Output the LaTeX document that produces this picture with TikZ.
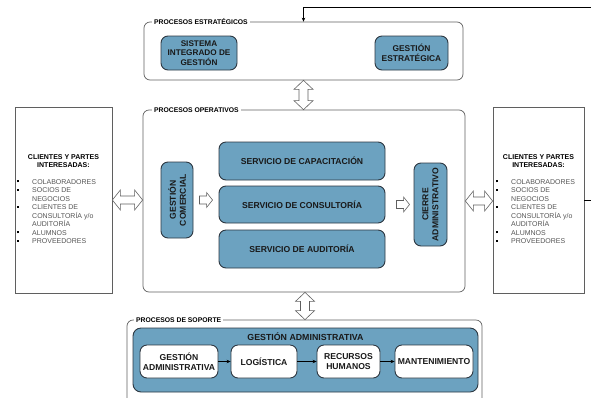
\documentclass[tikz,border=0pt]{standalone}
\usepackage{fontspec}
\setmainfont{Liberation Sans}
\usetikzlibrary{arrows.meta,calc}
\definecolor{blfill}{RGB}{108,162,192}
\definecolor{bdark}{RGB}{45,55,65}
\definecolor{gline}{RGB}{95,95,95}
\definecolor{gtext}{RGB}{85,85,85}
\newcommand\bulitem{\makebox[15pt][l]{\color{black}\raisebox{1.6pt}{\rule{2.1pt}{2.1pt}}}}
\newcommand\nobul{\hspace*{15pt}}
\begin{document}
\begin{tikzpicture}[x=1pt,y=-1pt,
  container/.style={draw=gline, line width=0.7pt, rounded corners=6pt, inner sep=0},
  clientbox/.style={draw=gline, line width=0.7pt, inner sep=0},
  bluebox/.style={draw=bdark, fill=blfill, line width=0.9pt, rounded corners=7pt, inner sep=1pt,
     align=center, text=black!90, font=\bfseries\fontsize{8.6}{10}\selectfont},
  whitebox/.style={draw=bdark, fill=white, line width=0.9pt, rounded corners=7pt, inner sep=1pt,
     align=center, text=black!90, font=\bfseries\fontsize{8.6}{10}\selectfont},
  ttl/.style={fill=white, anchor=west, inner sep=2pt, font=\bfseries\fontsize{6.8}{7.5}\selectfont},
  hollow/.style={draw=gline, fill=white, line width=0.6pt, line join=miter},
  clhead/.style={align=center, inner sep=0, font=\bfseries\fontsize{7}{8.5}\selectfont},
  cllist/.style={anchor=north west, align=left, inner sep=0, text=gtext, font=\fontsize{7}{8.5}\selectfont},
  flow/.style={draw=black, line width=0.6pt, -{Stealth[length=4pt,width=3.5pt]}}
]
\useasboundingbox (0,0) rectangle (591,397);
\clip (0,0) rectangle (591,397);

% containers
\node[container, minimum width=319pt, minimum height=58pt] (est) at (303.5,51) {};
\node[container, minimum width=322pt, minimum height=182pt] (op) at (304,201) {};
\node[container, minimum width=355pt, minimum height=86pt] (sup) at (304.5,363) {};
\node[ttl] (tEst) at (152,22) {PROCESOS ESTRATÉGICOS};
\node[ttl] (tOp) at (152,110) {PROCESOS OPERATIVOS};
\node[ttl] (tSup) at (134,320) {PROCESOS DE SOPORTE};

% client boxes
\node[clientbox, minimum width=97pt, minimum height=186pt] (lc) at (63.5,200) {};
\node[clientbox, minimum width=91pt, minimum height=186pt] (rc) at (538.5,200) {};
\node[clhead] (lch) at (63.5,161) {CLIENTES Y PARTES\\INTERESADAS:};
\node[clhead] (rch) at (538.5,161) {CLIENTES Y PARTES\\INTERESADAS:};
\node[cllist] (lcl) at (17,179) {\bulitem COLABORADORES\\\bulitem SOCIOS DE\\\nobul NEGOCIOS\\\bulitem CLIENTES DE\\\nobul CONSULTORÍA y/o\\\nobul AUDITORÍA\\\bulitem ALUMNOS\\\bulitem PROVEEDORES};
\node[cllist] (rcl) at (496,179) {\bulitem COLABORADORES\\\bulitem SOCIOS DE\\\nobul NEGOCIOS\\\bulitem CLIENTES DE\\\nobul CONSULTORÍA y/o\\\nobul AUDITORÍA\\\bulitem ALUMNOS\\\bulitem PROVEEDORES};

% strategic
\node[bluebox, minimum width=76pt, minimum height=34pt, font=\bfseries\fontsize{8.2}{9.8}\selectfont] (sig) at (199,53) {SISTEMA\\INTEGRADO DE\\GESTIÓN};
\node[bluebox, minimum width=73pt, minimum height=34pt, font=\bfseries\fontsize{8.4}{10}\selectfont] (ge) at (411.5,53) {GESTIÓN\\ESTRATÉGICA};

% operational
\node[bluebox, rotate=90, minimum width=76pt, minimum height=32pt] (gc) at (177,200) {GESTIÓN\\COMERCIAL};
\node[bluebox, minimum width=166pt, minimum height=38pt] (cap) at (302,161) {SERVICIO DE CAPACITACIÓN};
\node[bluebox, minimum width=166pt, minimum height=37pt] (con) at (302,204.5) {SERVICIO DE CONSULTORÍA};
\node[bluebox, minimum width=166pt, minimum height=38pt] (aud) at (302,249) {SERVICIO DE AUDITORÍA};
\node[bluebox, rotate=90, minimum width=83pt, minimum height=33pt] (ca) at (430.5,204.5) {CIERRE\\ADMINISTRATIVO};

% small hollow right arrows (gc -> services, services -> ca)
\draw[hollow] let \p1=($(gc.south)+(6,0)$), \p2=($(con.west)+(-6,0)$) in
  (\x1,\y1+4) -- (\x2-6,\y1+4) -- (\x2-6,\y1+7.5) -- (\x2,\y1) -- (\x2-6,\y1-7.5) -- (\x2-6,\y1-4) -- (\x1,\y1-4) -- cycle;
\draw[hollow] let \p1=($(con.east)+(11,0)$), \p2=($(ca.north)+(-4,0)$) in
  (\x1,\y1+4) -- (\x2-6,\y1+4) -- (\x2-6,\y1+7.5) -- (\x2,\y1) -- (\x2-6,\y1-7.5) -- (\x2-6,\y1-4) -- (\x1,\y1-4) -- cycle;

% support
\node[bluebox, minimum width=345pt, minimum height=64pt, rounded corners=8pt] (gab) at (305.5,360) {};
\node[inner sep=0, text=black!90, font=\bfseries\fontsize{8.8}{10}\selectfont] (gat) at (305.5,337) {GESTIÓN ADMINISTRATIVA};
\node[whitebox, minimum width=78pt, minimum height=33pt] (ga) at (179,361.5) {GESTIÓN\\ADMINISTRATIVA};
\node[whitebox, minimum width=66pt, minimum height=33pt] (log) at (264,361.5) {LOGÍSTICA};
\node[whitebox, minimum width=63pt, minimum height=33pt] (rh) at (348.5,361.5) {RECURSOS\\HUMANOS};
\node[whitebox, minimum width=78pt, minimum height=33pt] (man) at (434,361.5) {MANTENIMIENTO};
\draw[flow] (ga) -- (log);
\draw[flow] (log) -- (rh);
\draw[flow] (rh) -- (man);

% hollow double arrows, horizontal
\draw[hollow] let \p1=(lc.east), \p2=(op.west) in
  (\x1,\y1) -- (\x1+8,\y1+10) -- (\x1+8,\y1+4) -- (\x2-8,\y1+4) -- (\x2-8,\y1+10) -- (\x2,\y1)
  -- (\x2-8,\y1-10) -- (\x2-8,\y1-4) -- (\x1+8,\y1-4) -- (\x1+8,\y1-10) -- cycle;
\draw[hollow] let \p1=(op.east), \p2=(rc.west) in
  (\x1,\y1) -- (\x1+8,\y1+10) -- (\x1+8,\y1+4) -- (\x2-8,\y1+4) -- (\x2-8,\y1+10) -- (\x2,\y1)
  -- (\x2-8,\y1-10) -- (\x2-8,\y1-4) -- (\x1+8,\y1-4) -- (\x1+8,\y1-10) -- cycle;
% hollow double arrows, vertical
\draw[hollow] let \p1=(est.south), \p2=(op.north) in
  (\x1,\y1) -- (\x1+9.5,\y1-9) -- (\x1+4.5,\y1-9) -- (\x1+4.5,\y2+9) -- (\x1+9.5,\y2+9) -- (\x1,\y2)
  -- (\x1-9.5,\y2+9) -- (\x1-4.5,\y2+9) -- (\x1-4.5,\y1-9) -- (\x1-9.5,\y1-9) -- cycle;
\draw[hollow] let \p1=($(op.south)+(1,0)$), \p2=(sup.north) in
  (\x1,\y1) -- (\x1+9.5,\y1-9) -- (\x1+4.5,\y1-9) -- (\x1+4.5,\y2+9) -- (\x1+9.5,\y2+9) -- (\x1,\y2)
  -- (\x1-9.5,\y2+9) -- (\x1-4.5,\y2+9) -- (\x1-4.5,\y1-9) -- (\x1-9.5,\y1-9) -- cycle;

% feedback line
\coordinate (fb) at (600,7);
\draw[flow] (rc.east) -| (fb) -| (est.north);
\end{tikzpicture}
\end{document}
